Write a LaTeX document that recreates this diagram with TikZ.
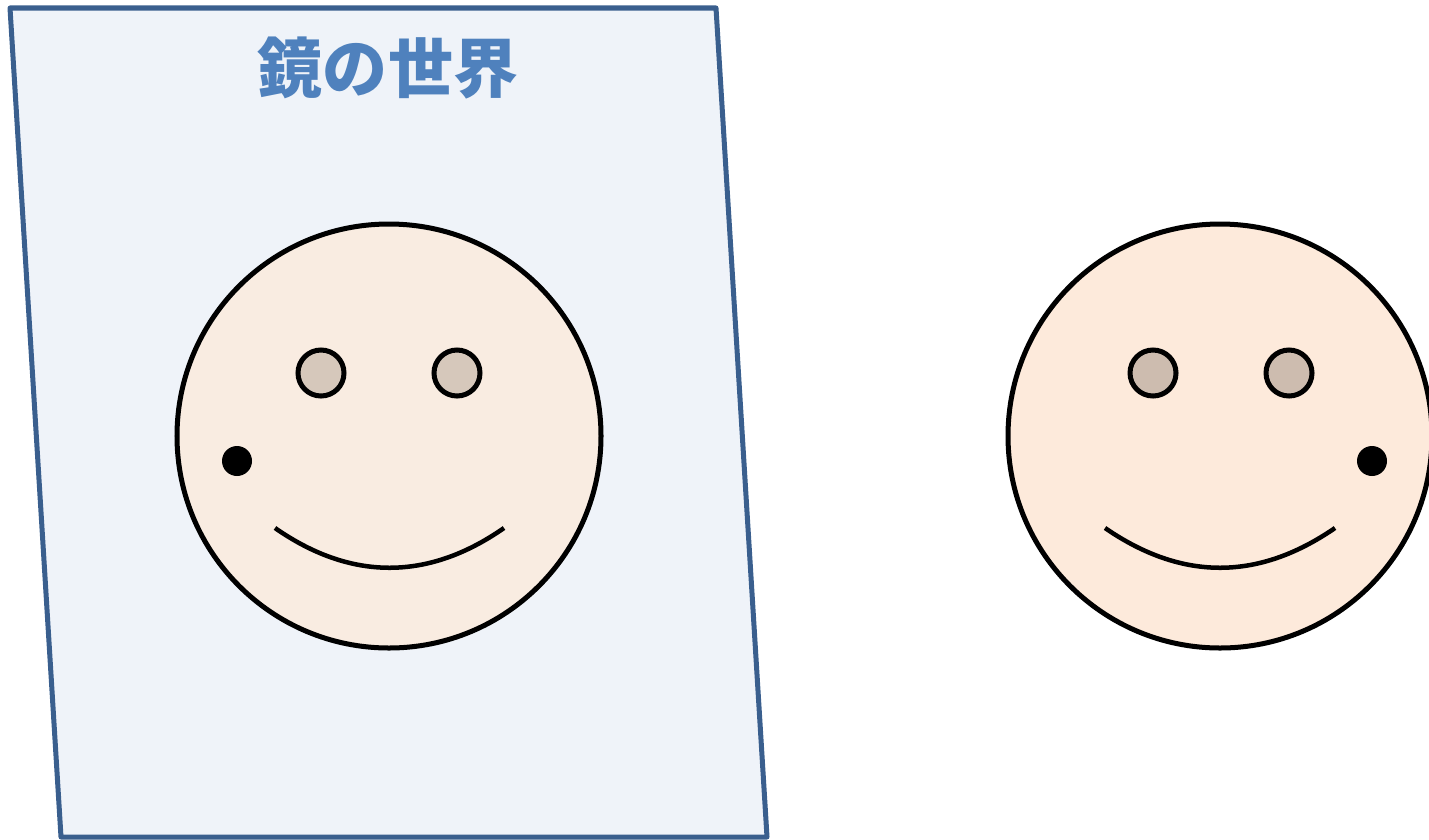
\documentclass[tikz,border=0pt]{standalone}
\usepackage{fontspec}
\newfontfamily\jpfont{Noto Sans CJK JP}[UprightFont=* Black]
\usetikzlibrary{positioning}

\definecolor{mirrorfill}{HTML}{EFF3F9}
\definecolor{mirrorline}{HTML}{3A5F8E}
\definecolor{titleblue}{HTML}{4F81BD}
\definecolor{skinback}{HTML}{F9ECE1}
\definecolor{skinfront}{HTML}{FDEADB}
\definecolor{eyeback}{HTML}{D6C8BB}
\definecolor{eyefront}{HTML}{CDBCAF}

\tikzset{
  face/.style={circle, draw, line width=5pt*0.57, minimum size=424*0.02cm, inner sep=0pt},
  eye/.style={circle, draw, line width=5pt*0.57, minimum size=46*0.02cm, inner sep=0pt},
  mole/.style={circle, fill, minimum size=30*0.02cm, inner sep=0pt},
  smile/.style={line width=4.5pt*0.57}
}

\begin{document}
\begin{tikzpicture}[x=0.02cm,y=-0.02cm]
  \useasboundingbox (0,0) rectangle (1429,839);
  % the mirror
  \draw[mirrorline, fill=mirrorfill, line width=5pt*0.57, line join=round]
    (10,8) -- (716,8) -- (767,837) -- (61,837) -- cycle;
  \node[text=titleblue, font=\jpfont\fontsize{37}{37}\selectfont] (title) at (388,68) {鏡の世界};

  % face in the mirror
  \node[face, fill=skinback] (lface) at (389,436) {};
  \node[eye, fill=eyeback] (leye1) at (321,373) {};
  \node[eye, fill=eyeback] (leye2) at (457,373) {};
  \node[mole] (lmole) at (237,461) {};
  \draw[smile] (275,528) .. controls (351,581) and (428,581) .. (504,528);

  % the real face
  \node[face, fill=skinfront] (rface) at (1220,436) {};
  \node[eye, fill=eyefront] (reye1) at (1153,373) {};
  \node[eye, fill=eyefront] (reye2) at (1289,373) {};
  \node[mole] (rmole) at (1372,461) {};
  \draw[smile] (1105,528) .. controls (1182,581) and (1258,581) .. (1335,528);
\end{tikzpicture}
\end{document}
